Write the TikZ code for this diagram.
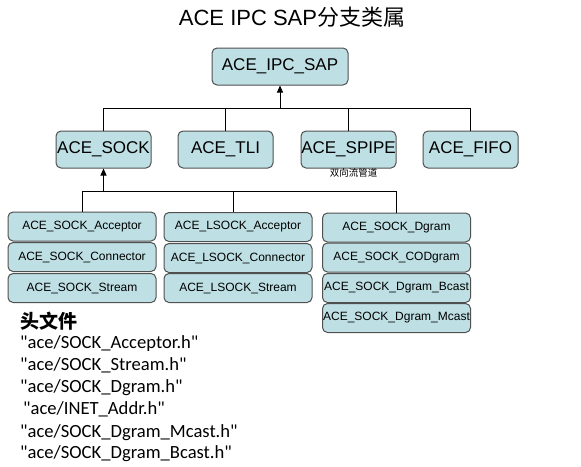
\documentclass[tikz,border=0pt]{standalone}
\usepackage{fontspec}
\setmainfont{Liberation Sans}
\newfontfamily\cjk{Noto Sans CJK SC}
\newfontfamily\calib{Carlito}
\usetikzlibrary{arrows.meta}
\definecolor{boxfill}{RGB}{190,224,228}
\definecolor{boxline}{RGB}{80,80,80}
\tikzset{
  big/.style={draw=boxline, fill=boxfill, line width=1pt, rounded corners=5pt,
    minimum width=95pt, minimum height=37pt, inner sep=0pt,
    font=\fontsize{17}{20}\selectfont},
  small/.style={big, minimum width=148pt, minimum height=29pt,
    font=\fontsize{12}{14}\selectfont},
  link/.style={line width=0.9pt},
  up/.style={link, -{Triangle[length=7pt,width=6pt]}}
}
\begin{document}
\begin{tikzpicture}[x=1pt,y=-1pt]
\useasboundingbox (0,0) rectangle (581,466);
\node[anchor=base, font=\fontsize{22}{26}\selectfont] (title) at (292,25) {ACE IPC SAP{\cjk 分支类属}};
% top of the tree
\node[big, minimum width=136pt] (ipc) at (280,66.5) {ACE\_IPC\_SAP};
\node[big] (sock) at (103.5,149.5) {ACE\_SOCK};
\node[big] (tli) at (225.5,149.5) {ACE\_TLI};
\node[big] (spipe) at (348.5,149.5) {ACE\_SPIPE};
\node[big] (fifo) at (470.5,149.5) {ACE\_FIFO};
\node[font=\cjk\fontsize{9.5}{11}\selectfont] (pipenote) at (353.5,173) {双向流管道};
\coordinate (hub1) at (280,108);
\draw[link] (sock.north) |- (hub1);
\draw[link] (fifo.north) |- (hub1);
\draw[link] (tli.north) -- (tli.north |- hub1);
\draw[link] (spipe.north) -- (spipe.north |- hub1);
\draw[up] (hub1) -- (ipc.south);
% socket classes
\foreach \n/\x/\y/\t in {sacc/82/226.5/ACE\_SOCK\_Acceptor, scon/82/257/ACE\_SOCK\_Connector, sstr/82/288/ACE\_SOCK\_Stream,
  lacc/238/227/ACE\_LSOCK\_Acceptor, lcon/238/258/ACE\_LSOCK\_Connector, lstr/238/288/ACE\_LSOCK\_Stream,
  dgram/396.5/227.5/ACE\_SOCK\_Dgram, codgram/396.5/257.5/ACE\_SOCK\_CODgram,
  bcast/396.5/288/ACE\_SOCK\_Dgram\_Bcast, mcast/396.5/318/ACE\_SOCK\_Dgram\_Mcast}
  \node[small] (\n) at (\x,\y) {\t};
\coordinate (hub2) at (103.5,191);
\draw[link] (sacc.north) |- (hub2);
\draw[link] (dgram.north) |- (hub2);
\draw[link] ([xshift=-5pt]lacc.north) -- ([xshift=-5pt]lacc.north |- hub2);
\draw[up] (hub2) -- (sock.south);
% header files
\node[anchor=base west, font=\cjk\bfseries\fontsize{19}{22}\selectfont] (hdr) at (17,328) {头文件};
\foreach \i/\y/\t in {1/348/{"ace/SOCK\_Acceptor.h"}, 2/370/{"ace/SOCK\_Stream.h"}, 3/392/{"ace/SOCK\_Dgram.h"},
  4/414/{\hspace{3pt}"ace/INET\_Addr.h"}, 5/437/{"ace/SOCK\_Dgram\_Mcast.h"}, 6/458/{"ace/SOCK\_Dgram\_Bcast.h"}}
  \node[anchor=base west, inner sep=0pt, font=\calib\fontsize{18.6}{22}\selectfont] (hdr\i) at (20,\y) {\t};
\end{tikzpicture}
\end{document}
